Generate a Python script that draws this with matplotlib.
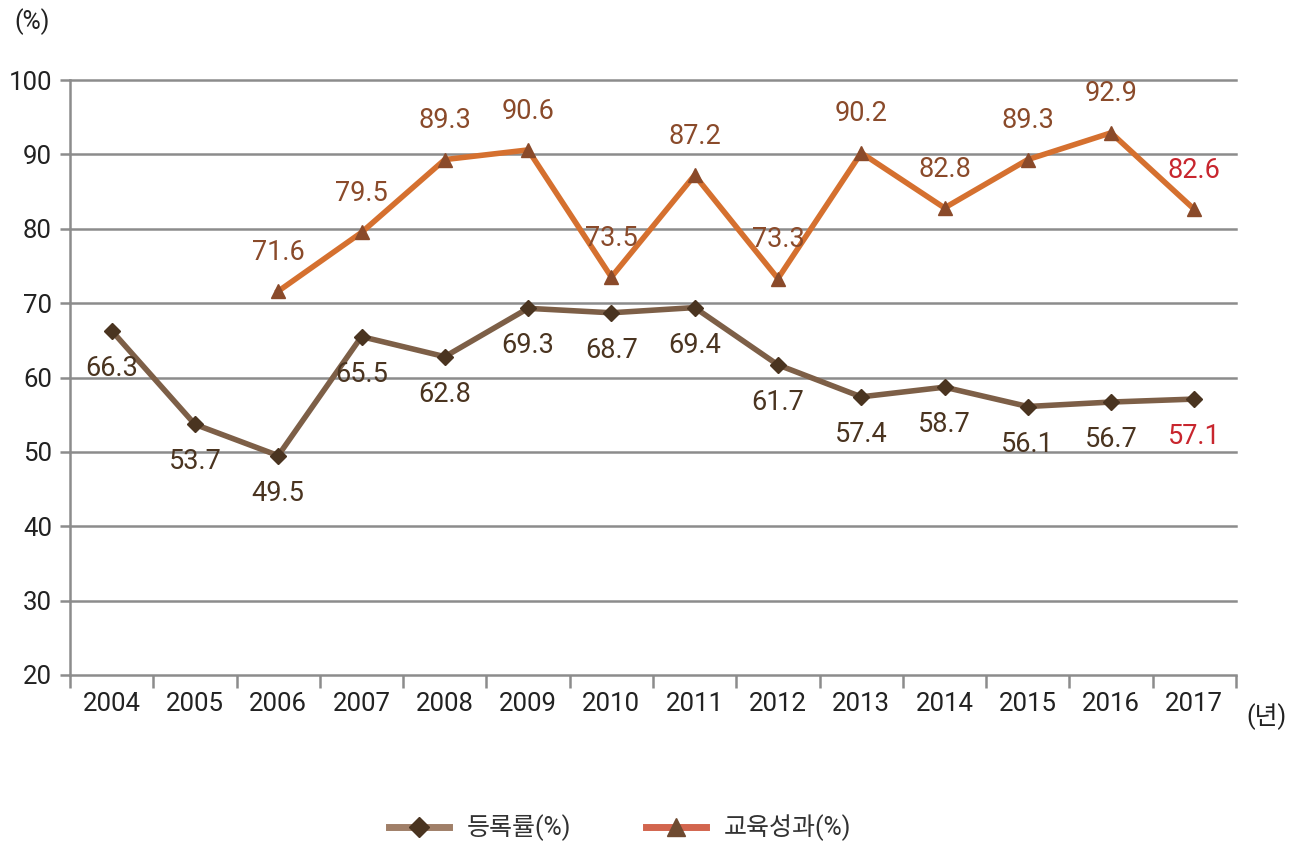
import numpy as np
import matplotlib.pyplot as plt
from matplotlib.lines import Line2D

plt.rcParams['font.family'] = ['Roboto', 'Noto Sans CJK KR', 'DejaVu Sans']

years = ['2004', '2005', '2006', '2007', '2008', '2009', '2010',
         '2011', '2012', '2013', '2014', '2015', '2016', '2017']
enroll = [66.3, 53.7, 49.5, 65.5, 62.8, 69.3, 68.7, 69.4, 61.7, 57.4, 58.7, 56.1, 56.7, 57.1]
# 교육성과 starts in 2006
edu_years = years[2:]
edu = [71.6, 79.5, 89.3, 90.6, 73.5, 87.2, 73.3, 90.2, 82.8, 89.3, 92.9, 82.6]

yticks = [20, 30, 40, 50, 60, 70, 80, 90, 100]

grid_c = '#8c8c8c'
enroll_line = '#7d5f47'
enroll_mark = '#4a3420'
edu_line = '#d5702f'
edu_mark = '#8a4a2a'
last_c = '#c8262e'
txt_c = '#222222'

fig = plt.figure(figsize=(12.97, 8.43), dpi=100)
ax = fig.add_axes([70/1297, 1-675/843, (1236-70)/1297, (675-80)/843])

x = np.arange(len(years))
xe = np.arange(2, len(years))

ax.set_xlim(-0.5, len(years)-0.5)
ax.set_ylim(20, 100)
for v in yticks:
    ax.axhline(v, color=grid_c, lw=1.8, zorder=1, clip_on=False)

ax.plot(x, enroll, color=enroll_line, lw=4, marker='D', ms=8,
        mfc=enroll_mark, mec=enroll_mark, zorder=3)
ax.plot(xe, edu, color=edu_line, lw=4, marker='^', ms=10,
        mfc=edu_mark, mec=edu_mark, zorder=3)

for i, v in enumerate(enroll):
    c = last_c if i == len(enroll)-1 else enroll_mark
    ax.annotate(f'{v}', (x[i], v), xytext=(0, -27), textcoords='offset points',
                ha='center', va='center', fontsize=19.5, color=c)
for i, v in enumerate(edu):
    c = last_c if i == len(edu)-1 else edu_mark
    ax.annotate(f'{v}', (xe[i], v), xytext=(0, 28), textcoords='offset points',
                ha='center', va='center', fontsize=19.5, color=c)

ax.set_yticks(yticks)
ax.set_yticklabels([str(v) for v in yticks], fontsize=18.5, color=txt_c)
ax.set_xticks(x)
ax.set_xticklabels(years, fontsize=18.5, color=txt_c)
ax.tick_params(axis='x', length=0, pad=12)
ax.tick_params(axis='y', length=7, width=1.8, color=grid_c, pad=6)
# category separators below the axis
ax.set_xticks(np.arange(-0.5, len(years)), minor=True)
ax.tick_params(axis='x', which='minor', length=9, width=1.8, color=grid_c)

for s in ['top', 'right', 'bottom']:
    ax.spines[s].set_visible(False)
ax.spines['left'].set_color(grid_c)
ax.spines['left'].set_linewidth(1.8)

fig.text(14/1297, 1-22/843, '(%)', fontsize=18, color=txt_c, va='center')
fig.text(1246/1297, 1-717/843, '(년)', fontsize=18, color=txt_c, va='center')

handles = [
    Line2D([], [], color='#a07f68', lw=5, marker='D', ms=10, mfc=enroll_mark, mec=enroll_mark),
    Line2D([], [], color='#d2654e', lw=5, marker='^', ms=13, mfc='#6e4a30', mec='#6e4a30'),
]
fig.legend(handles, ['등록률(%)', '교육성과(%)'], loc='center', ncol=2,
           bbox_to_anchor=(620/1297, 1-828/843), frameon=False, fontsize=18,
           handlelength=2.4, handletextpad=0.7, columnspacing=3.0, labelcolor='#333333')

fig.savefig('out.png', dpi=100)
